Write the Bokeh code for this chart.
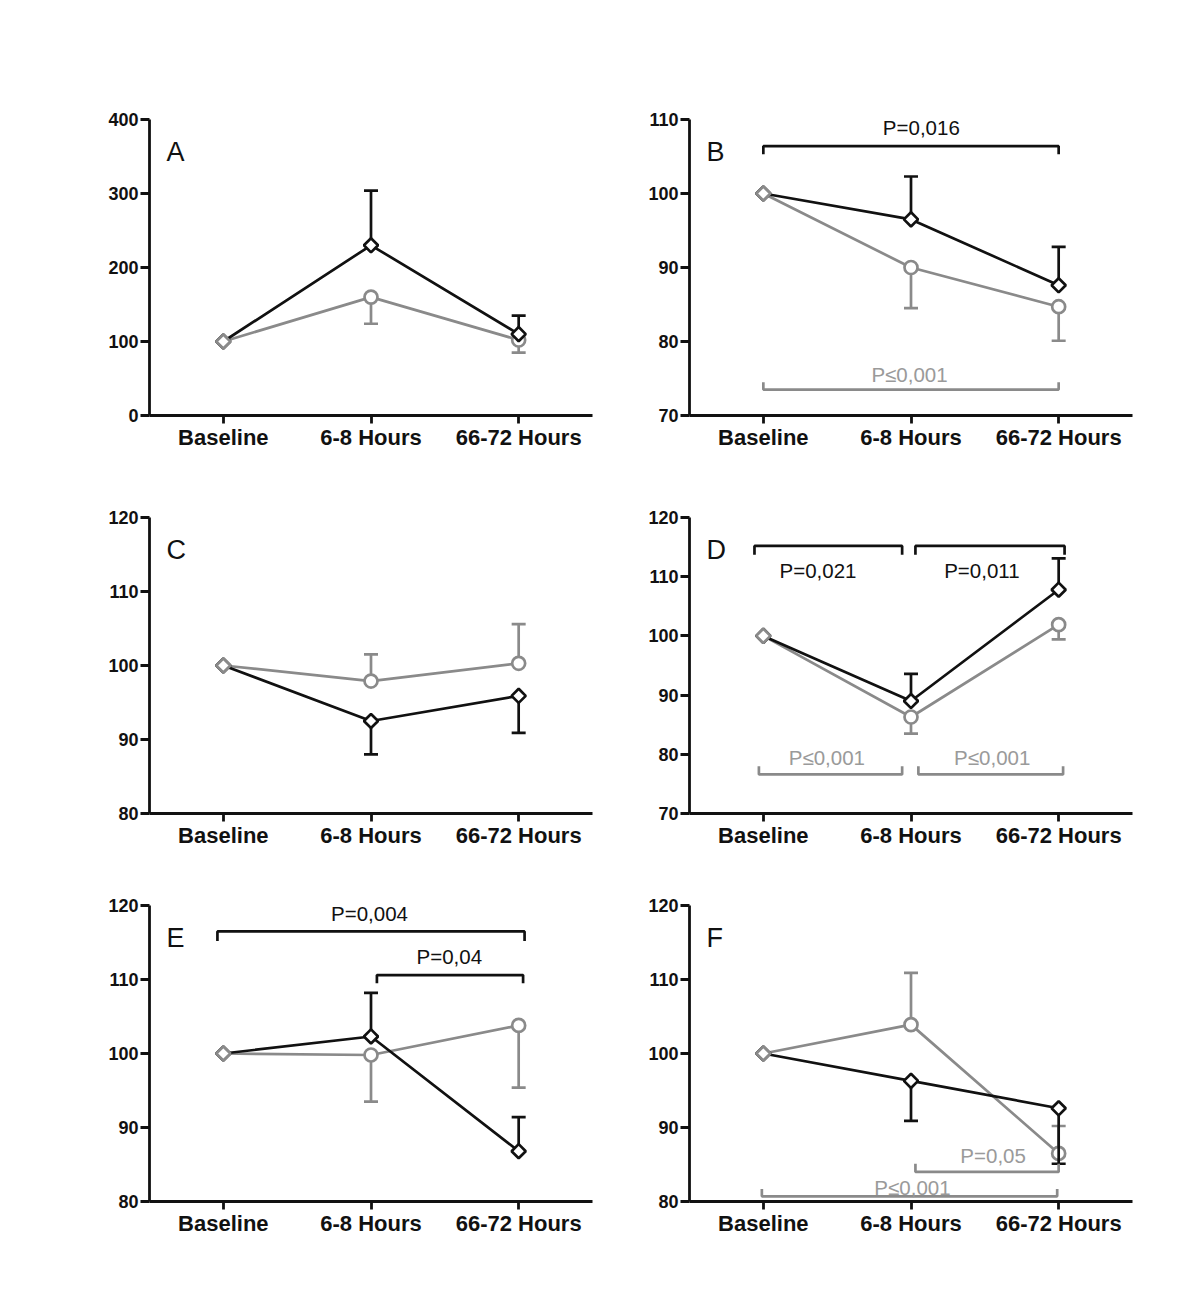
import numpy as np
from bokeh.plotting import figure
from bokeh.layouts import row, column, Spacer
from bokeh.models import Range1d, FixedTicker
from bokeh.core.properties import value
from bokeh.embed import file_html
from bokeh.resources import INLINE

# ---------------- data ----------------
categories = ["Baseline", "6-8 Hours", "66-72 Hours"]

# signed error: + means bar drawn upward, - downward
a_black = [100, 230, 110]
a_black_err = [0, 74, 25]
a_grey = [100, 160, 102]
a_grey_err = [0, -36, -17]

b_black = [100, 96.5, 87.6]
b_black_err = [0, 5.8, 5.2]
b_grey = [100, 90.0, 84.7]
b_grey_err = [0, -5.5, -4.6]

c_black = [100, 92.5, 95.9]
c_black_err = [0, -4.5, -5.0]
c_grey = [100, 97.9, 100.3]
c_grey_err = [0, 3.6, 5.3]

d_black = [100, 89.0, 107.8]
d_black_err = [0, 4.6, 5.3]
d_grey = [100, 86.3, 101.9]
d_grey_err = [0, -2.8, -2.5]

e_black = [100, 102.3, 86.8]
e_black_err = [0, 5.9, 4.6]
e_grey = [100, 99.8, 103.8]
e_grey_err = [0, -6.3, -8.4]

f_black = [100, 96.3, 92.6]
f_black_err = [0, -5.4, -7.5]
f_grey = [100, 103.9, 86.5]
f_grey_err = [0, 7.0, 3.7]

a_yticks = [0, 100, 200, 300, 400]
b_yticks = [70, 80, 90, 100, 110]
c_yticks = [80, 90, 100, 110, 120]
d_yticks = [70, 80, 90, 100, 110, 120]
e_yticks = [80, 90, 100, 110, 120]
f_yticks = [80, 90, 100, 110, 120]

b_pvals = ["P=0,016", "P\u22640,001"]
d_pvals = ["P=0,021", "P=0,011", "P\u22640,001", "P\u22640,001"]
e_pvals = ["P=0,004", "P=0,04"]
f_pvals = ["P=0,05", "P\u22640,001"]

# ---------------- style ----------------
BLACK = "#111111"
GREY = "#8a8a8a"
GREY_TXT = "#9a9a9a"
FONT = "Liberation Sans"
LW = 2.7


def make_panel(letter, ymin, ymax, yticks, black, black_err, grey, grey_err,
               brackets, top):
    p = figure(x_range=Range1d(-0.5, 2.5), y_range=Range1d(ymin, ymax),
               frame_width=443, frame_height=296,
               min_border_left=81, min_border_right=16,
               min_border_top=top, min_border_bottom=60,
               output_backend="svg", toolbar_location=None)
    p.grid.visible = False
    p.outline_line_color = None
    xs = list(range(len(categories)))

    p.xaxis.ticker = FixedTicker(ticks=xs)
    p.xaxis.major_label_overrides = {i: c for i, c in enumerate(categories)}
    p.yaxis.ticker = FixedTicker(ticks=yticks)
    for ax in (p.xaxis[0], p.yaxis[0]):
        ax.axis_line_width = 2.8
        ax.axis_line_color = BLACK
        ax.major_tick_line_width = 2.8
        ax.major_tick_line_color = BLACK
        ax.major_tick_in = 0
        ax.minor_tick_line_color = None
        ax.major_label_text_font = FONT
        ax.major_label_text_font_style = "bold"
        ax.major_label_text_color = BLACK
    p.xaxis.major_tick_out = 8
    p.yaxis.major_tick_out = 9
    p.xaxis.major_label_text_font_size = "22px"
    p.yaxis.major_label_text_font_size = "18px"
    p.xaxis.major_label_standoff = 1
    p.yaxis.major_label_standoff = 2

    def series(vals, errs, color, marker, size, angle, skip_first):
        p.line(xs, vals, line_color=color, line_width=LW)
        idx = [i for i in xs if errs[i] != 0]
        ex = [xs[i] for i in idx]
        ey0 = [vals[i] for i in idx]
        ey1 = [vals[i] + errs[i] for i in idx]
        p.segment(ex, ey0, ex, ey1, line_color=color, line_width=LW)
        p.scatter(ex, ey1, marker="dash", size=14, line_color=color, line_width=LW)
        mi = xs[1:] if skip_first else xs
        p.scatter([xs[i] for i in mi], [vals[i] for i in mi], marker=marker,
                  size=size, angle=angle, line_color=color, line_width=LW,
                  fill_color="white")

    series(grey, grey_err, GREY, "circle", 13, 0, True)
    series(black, black_err, BLACK, "square", 10, np.pi / 4, False)
    # baseline marker appears grey (grey diamond drawn over black)
    p.scatter([xs[0]], [grey[0]], marker="square", size=10, angle=np.pi / 4,
              line_color=GREY, line_width=LW, fill_color="white")

    for (x0, x1, yb, tip, col, lab, lx, ly) in brackets:
        p.line([x0, x0, x1, x1], [tip, yb, yb, tip], line_color=col, line_width=LW)
        p.text([lx], [ly], text=[lab],
               text_color=(BLACK if col == BLACK else GREY_TXT),
               text_font=value(FONT), text_font_size="20.5px",
               text_align="center", text_baseline="middle")

    ly = ymax - (ymax - ymin) * 32.0 / 296.0
    p.text([-0.385], [ly], text=[letter], text_font=value(FONT),
           text_font_size="27px", text_align="left", text_baseline="middle",
           text_color=BLACK)
    return p


pA = make_panel("A", 0, 400, a_yticks, a_black, a_black_err, a_grey, a_grey_err,
                [], 119)
pB = make_panel("B", 70, 110, b_yticks, b_black, b_black_err, b_grey, b_grey_err,
                [(0.0, 2.0, 106.4, 105.3, BLACK, b_pvals[0], 1.07, 108.9),
                 (0.0, 2.0, 73.5, 74.5, GREY, b_pvals[1], 0.99, 75.6)], 119)
pC = make_panel("C", 80, 120, c_yticks, c_black, c_black_err, c_grey, c_grey_err,
                [], 42)
pD = make_panel("D", 70, 120, d_yticks, d_black, d_black_err, d_grey, d_grey_err,
                [(-0.06, 0.94, 115.2, 113.7, BLACK, d_pvals[0], 0.37, 111.05),
                 (1.03, 2.04, 115.2, 113.7, BLACK, d_pvals[1], 1.48, 111.05),
                 (-0.03, 0.94, 76.6, 78.0, GREY, d_pvals[2], 0.43, 79.5),
                 (1.05, 2.03, 76.6, 78.0, GREY, d_pvals[3], 1.55, 79.5)], 42)
pE = make_panel("E", 80, 120, e_yticks, e_black, e_black_err, e_grey, e_grey_err,
                [(-0.04, 2.04, 116.5, 115.2, BLACK, e_pvals[0], 0.99, 118.9),
                 (1.04, 2.03, 110.6, 109.5, BLACK, e_pvals[1], 1.53, 113.1)], 32)
pF = make_panel("F", 80, 120, f_yticks, f_black, f_black_err, f_grey, f_grey_err,
                [(1.03, 2.0, 84.0, 85.1, GREY, f_pvals[0], 1.556, 86.2),
                 (-0.01, 1.99, 80.7, 81.7, GREY, f_pvals[1], 1.01, 81.9)], 32)

layout = column(
    row(Spacer(width=68, height=1), pA, pB),
    row(Spacer(width=68, height=1), pC, pD),
    row(Spacer(width=68, height=1), pE, pF),
)

open("out.html", "w").write(file_html(layout, INLINE))
